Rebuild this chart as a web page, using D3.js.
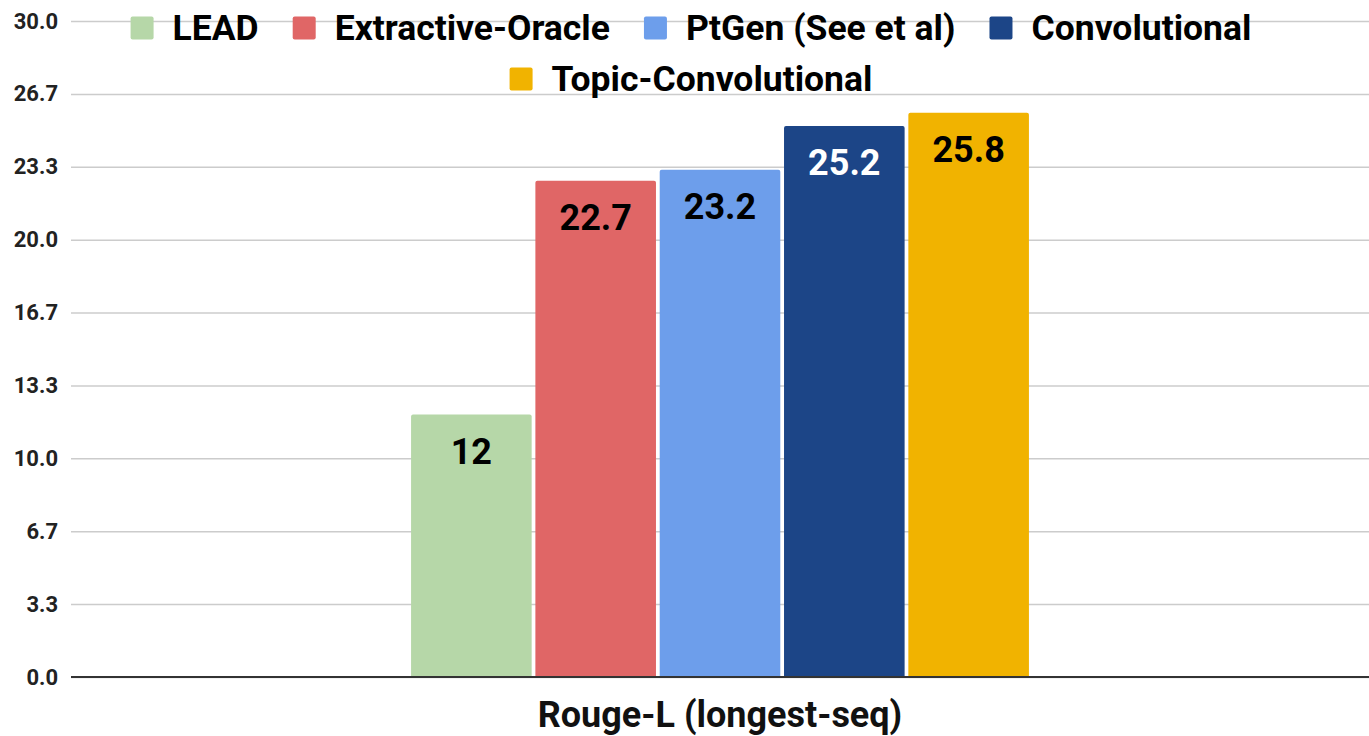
<!DOCTYPE html>
<html><head><meta charset="utf-8">
<script src="https://cdnjs.cloudflare.com/ajax/libs/d3/7.8.5/d3.min.js"></script>
<style>body{margin:0;background:#fff}svg{display:block}</style>
</head><body>
<svg id="chart" width="1369" height="736"></svg>
<script>
const categories = ["Rouge-L (longest-seq)"];
const seriesNames = ["LEAD", "Extractive-Oracle", "PtGen (See et al)", "Convolutional", "Topic-Convolutional"];
const seriesValues = [12, 22.7, 23.2, 25.2, 25.8];
const seriesColors = ["#b6d7a8", "#e06666", "#6d9eeb", "#1c4587", "#f1b300"];
const labelColors = ["#000", "#000", "#000", "#fff", "#000"];
const yTicks = [0, 10/3, 20/3, 10, 40/3, 50/3, 20, 70/3, 80/3, 30];

const W = 1369, H = 736;
const m = {left: 71, right: 0, top: 21, bottom: 59};
const svg = d3.select("#chart");
const font = "Roboto, 'Liberation Sans', Arial, sans-serif";

const y = d3.scaleLinear().domain([0, 30]).range([H - m.bottom, m.top]);
const x0 = d3.scaleBand().domain(categories).range([m.left, W - m.right]).paddingInner(0.355).paddingOuter(0.355);
const x1 = d3.scaleBand().domain(seriesNames).range([0, x0.bandwidth()]).paddingInner(0.03).paddingOuter(0);

// gridlines
const yAxis = d3.axisLeft(y).tickValues(yTicks).tickSize(-(W - m.left - m.right)).tickFormat(d => d.toFixed(1)).tickPadding(13);
const gy = svg.append("g").attr("transform", `translate(${m.left},0)`).call(yAxis);
gy.select(".domain").remove();
gy.selectAll(".tick line").attr("stroke", "#cccccc").attr("stroke-width", 1.5);
gy.selectAll(".tick text").attr("font-family", font).attr("font-weight", "bold").attr("font-size", 22).attr("fill", "#222");

// bars
const g = svg.append("g").attr("transform", `translate(${x0(categories[0])},0)`);
const data = seriesNames.map((s, i) => ({name: s, value: seriesValues[i], color: seriesColors[i], lc: labelColors[i]}));
g.selectAll("path.bar").data(data).enter().append("path")
  .attr("class", "bar")
  .attr("fill", d => d.color)
  .attr("d", d => {
    const xa = x1(d.name), w = x1.bandwidth(), yt = y(d.value), yb = y(0), r = 2;
    return `M${xa},${yb}V${yt + r}Q${xa},${yt} ${xa + r},${yt}H${xa + w - r}Q${xa + w},${yt} ${xa + w},${yt + r}V${yb}Z`;
  });
g.selectAll("text.val").data(data).enter().append("text")
  .attr("x", d => x1(d.name) + x1.bandwidth() / 2)
  .attr("y", d => y(d.value) + 49)
  .attr("text-anchor", "middle")
  .attr("font-family", font).attr("font-weight", "bold").attr("font-size", 36)
  .attr("fill", d => d.lc)
  .text(d => String(d.value));

// baseline
svg.append("line").attr("x1", m.left).attr("x2", W - m.right).attr("y1", y(0)).attr("y2", y(0))
  .attr("stroke", "#333").attr("stroke-width", 2);

// x label
svg.append("text").attr("x", x0(categories[0]) + x0.bandwidth() / 2).attr("y", 727)
  .attr("text-anchor", "middle").attr("font-family", font).attr("font-weight", "bold").attr("font-size", 36)
  .attr("fill", "#111").text(categories[0]);

// legend
const rows = [[0, 1, 2, 3], [4]];
const rowY = [28, 79];
const sw = 23, gapT = 19, gapItem = 34, cx = 691;
rows.forEach((row, ri) => {
  const lg = svg.append("g");
  let xCur = 0;
  row.forEach(i => {
    const it = lg.append("g").attr("transform", `translate(${xCur},0)`);
    it.append("rect").attr("x", 0).attr("y", rowY[ri] - sw / 2).attr("width", sw).attr("height", sw).attr("rx", 2)
      .attr("fill", seriesColors[i]);
    const t = it.append("text").attr("x", sw + gapT).attr("y", rowY[ri] + 12)
      .attr("font-family", font).attr("font-weight", "bold").attr("font-size", 35.5).attr("fill", "#000")
      .text(seriesNames[i]);
    xCur += sw + gapT + t.node().getComputedTextLength() + gapItem;
  });
  const total = xCur - gapItem;
  lg.attr("transform", `translate(${cx - total / 2},0)`);
});
</script>
</body></html>
